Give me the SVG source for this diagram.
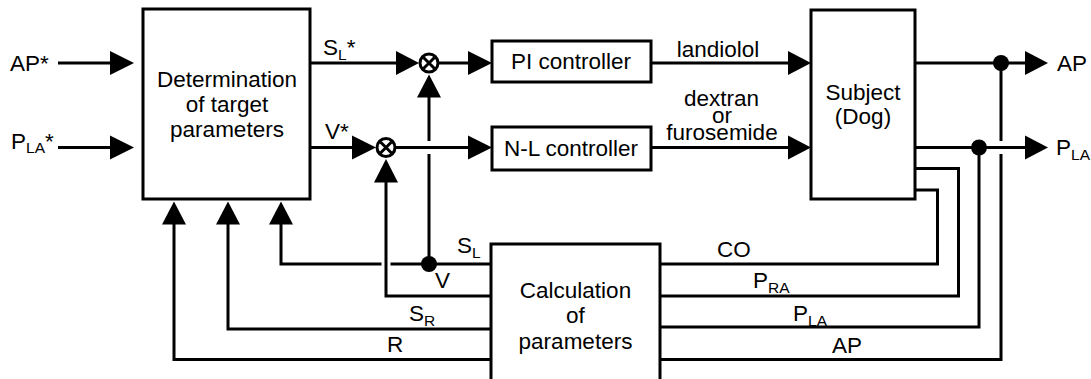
<svg xmlns="http://www.w3.org/2000/svg" width="1091" height="379" viewBox="0 0 1091 379">
<defs>
<style>
.box{fill:#fff;stroke:#000;stroke-width:3}
.ln{fill:none;stroke:#000;stroke-width:3}
.ah{fill:#000}
.t{font-family:"Liberation Sans",Arial,sans-serif;font-size:22.5px;fill:#000}
.m{text-anchor:middle}
.sub{font-size:15.5px}
.sum{fill:#fff;stroke:#000;stroke-width:3}
</style>
</defs>
<rect width="1091" height="379" fill="#fff"/>
<g id="connectors">
<path class="ln" d="M58 63H112"/>
<polygon class="ah" points="110,51 134,63 110,75"/>
<path class="ln" d="M58 147.5H112"/>
<polygon class="ah" points="110,135.5 134,147.5 110,159.5"/>
<path class="ln" d="M310 63H398"/>
<polygon class="ah" points="396,51 419,63 396,75"/>
<path class="ln" d="M439 63H470"/>
<polygon class="ah" points="468,51 492,63 468,75"/>
<path class="ln" d="M310 147.5H354"/>
<polygon class="ah" points="352,135.5 376,147.5 352,159.5"/>
<path class="ln" d="M396 147.5H470"/>
<polygon class="ah" points="468,135.5 492,147.5 468,159.5"/>
<path class="ln" d="M651 63H790"/>
<polygon class="ah" points="788,51 811,63 788,75"/>
<path class="ln" d="M651 147.5H790"/>
<polygon class="ah" points="788,135.5 811,147.5 788,159.5"/>
<path class="ln" d="M915 63H1027"/>
<polygon class="ah" points="1025,51 1048,63 1025,75"/>
<path class="ln" d="M915 147.5H1027"/>
<polygon class="ah" points="1025,135.5 1048,147.5 1025,159.5"/>
<circle cx="1001" cy="63" r="8" fill="#000"/>
<circle cx="979" cy="147.5" r="8" fill="#000"/>
<path class="ln" d="M915 190H937.5V264H660"/>
<path class="ln" d="M915 168.5H958.5V296H660"/>
<path class="ln" d="M979 147.5V327H660"/>
<path class="ln" d="M1001 63V141"/>
<path class="ln" d="M1001 154V359.5H660"/>
<path class="ln" d="M491 264H390.5"/>
<path class="ln" d="M381.5 264H281V222"/>
<polygon class="ah" points="269,224.5 281,201.5 293,224.5"/>
<circle cx="429" cy="264" r="8" fill="#000"/>
<path class="ln" d="M429 264V154"/>
<path class="ln" d="M429 141V95"/>
<polygon class="ah" points="417,97.5 429,74.5 441,97.5"/>
<path class="ln" d="M491 296H386V180"/>
<polygon class="ah" points="374,182.5 386,159 398,182.5"/>
<path class="ln" d="M491 329H228V222"/>
<polygon class="ah" points="216,224.5 228,201.5 240,224.5"/>
<path class="ln" d="M491 359.5H174V222"/>
<polygon class="ah" points="162,224.5 174,201.5 186,224.5"/>
</g>
<g id="labels">
<text class="t" x="10" y="71">AP*</text>
<text class="t" x="11" y="148.5">P<tspan class="sub" dy="4.5">LA</tspan><tspan dy="-4.5">*</tspan></text>
<text class="t" x="323" y="55">S<tspan class="sub" dy="4.5">L</tspan><tspan dy="-4.5">*</tspan></text>
<text class="t" x="325" y="139">V*</text>
<text class="t m" x="718" y="57">landiolol</text>
<text class="t m" x="721.5" y="106">dextran</text>
<text class="t m" x="722" y="123">or</text>
<text class="t m" x="722" y="140">furosemide</text>
<text class="t" x="1057" y="71">AP</text>
<text class="t" x="1056" y="155">P<tspan class="sub" dy="4.5">LA</tspan></text>
<text class="t" x="717" y="257">CO</text>
<text class="t" x="753" y="288">P<tspan class="sub" dy="4.5">RA</tspan></text>
<text class="t" x="793" y="321">P<tspan class="sub" dy="4.5">LA</tspan></text>
<text class="t" x="832" y="353">AP</text>
<text class="t" x="457" y="253">S<tspan class="sub" dy="4.5">L</tspan></text>
<text class="t" x="435" y="288">V</text>
<text class="t" x="409" y="321">S<tspan class="sub" dy="4.5">R</tspan></text>
<text class="t" x="387" y="352">R</text>
</g>
<g id="determination">
<rect class="box" x="143" y="9" width="167" height="190"/>
<text class="t m" x="227" y="87">Determination</text>
<text class="t m" x="227" y="112">of target</text>
<text class="t m" x="227" y="136.5">parameters</text>
</g>
<g id="sum-sl">
<circle class="sum" cx="429" cy="63" r="9"/>
<path class="ln" stroke-width="2.5" d="M423.5 57.5L434.5 68.5M434.5 57.5L423.5 68.5"/>
</g>
<g id="sum-v">
<circle class="sum" cx="386" cy="147.5" r="9"/>
<path class="ln" stroke-width="2.5" d="M380.5 142L391.5 153M391.5 142L380.5 153"/>
</g>
<g id="pi-controller">
<rect class="box" x="492" y="41" width="159" height="41"/>
<text class="t m" x="571" y="69">PI controller</text>
</g>
<g id="nl-controller">
<rect class="box" x="492" y="127" width="159" height="43"/>
<text class="t m" x="571" y="156">N-L controller</text>
</g>
<g id="subject">
<rect class="box" x="811" y="10" width="104" height="189"/>
<text class="t m" x="863" y="100">Subject</text>
<text class="t m" x="863" y="124">(Dog)</text>
</g>
<g id="calculation">
<rect class="box" x="491" y="244" width="169" height="150"/>
<text class="t m" x="575.5" y="298">Calculation</text>
<text class="t m" x="575.5" y="323">of</text>
<text class="t m" x="575.5" y="349">parameters</text>
</g>
</svg>
